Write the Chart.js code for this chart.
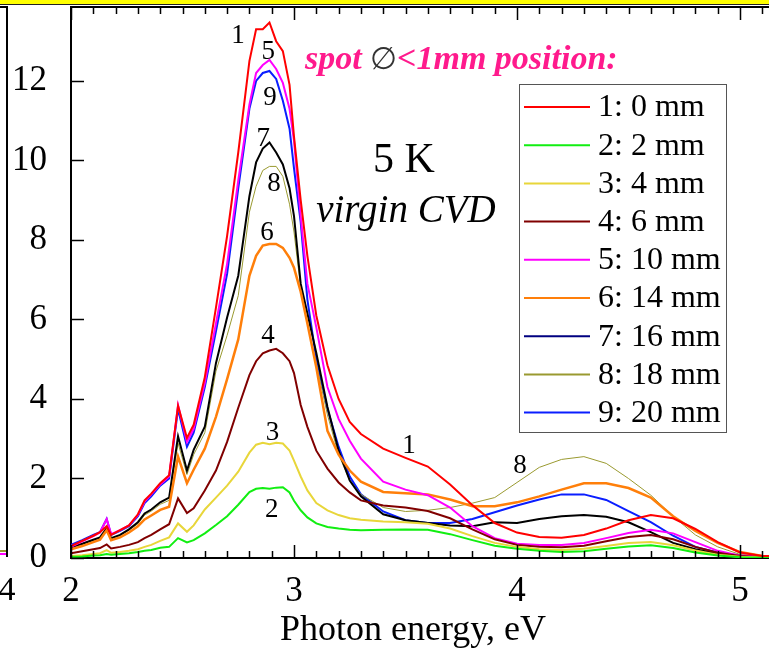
<!DOCTYPE html>
<html>
<head>
<meta charset="utf-8">
<script src="https://cdn.jsdelivr.net/npm/chart.js@4.4.1/dist/chart.umd.min.js"></script>
<style>
  html, body { margin: 0; padding: 0; background: #fff; overflow: hidden; }
  #wrap { width: 769px; height: 653px; position: relative; }
</style>
</head>
<body>
<div id="wrap"><canvas id="chart"></canvas></div>
<script>
// photon energy (eV)
const energies = [2.00, 2.05, 2.10, 2.13, 2.16, 2.18, 2.22, 2.26, 2.30, 2.33, 2.36, 2.40, 2.44, 2.48, 2.52, 2.55,
  2.60, 2.65, 2.70, 2.75, 2.80, 2.83, 2.86, 2.89, 2.92, 2.95, 2.98, 3.00, 3.03, 3.06, 3.10, 3.15, 3.20, 3.25, 3.30,
  3.40, 3.50, 3.60, 3.70, 3.80, 3.90, 4.00, 4.10, 4.20, 4.30, 4.40, 4.50, 4.60, 4.70, 4.80, 4.90, 5.00, 5.10, 5.13];

// intensity for each spot position
const pos0mm = [0.30, 0.43, 0.56, 0.65, 0.80, 0.58, 0.70, 0.82, 1.10, 1.45, 1.62, 1.88, 2.08, 3.83, 3.02, 3.35,
  4.55, 6.30, 8.10, 10.2, 12.5, 13.3, 13.3, 13.47, 13.0, 12.75, 11.9, 10.6, 9.0, 7.6, 6.1, 4.85, 4.0, 3.42, 3.12,
  2.75, 2.52, 2.30, 1.85, 1.33, 0.88, 0.64, 0.53, 0.51, 0.58, 0.74, 0.95, 1.08, 1.00, 0.73, 0.40, 0.14, 0.05, 0.05];
const pos2mm = [0.03, 0.04, 0.06, 0.07, 0.10, 0.08, 0.10, 0.12, 0.15, 0.18, 0.20, 0.26, 0.28, 0.50, 0.39, 0.45,
  0.62, 0.83, 1.05, 1.34, 1.66, 1.74, 1.76, 1.74, 1.77, 1.78, 1.65, 1.44, 1.20, 1.02, 0.87, 0.78, 0.74, 0.71, 0.70,
  0.71, 0.72, 0.71, 0.60, 0.45, 0.31, 0.23, 0.18, 0.15, 0.17, 0.23, 0.29, 0.32, 0.25, 0.14, 0.06, 0.02, 0.01, 0.01];
const pos4mm = [0.05, 0.07, 0.10, 0.12, 0.20, 0.13, 0.15, 0.18, 0.22, 0.28, 0.33, 0.43, 0.52, 0.87, 0.66, 0.82,
  1.22, 1.52, 1.82, 2.17, 2.65, 2.85, 2.90, 2.86, 2.90, 2.88, 2.70, 2.45, 2.05, 1.70, 1.38, 1.20, 1.08, 1.00, 0.96,
  0.92, 0.90, 0.86, 0.74, 0.55, 0.38, 0.28, 0.22, 0.20, 0.23, 0.30, 0.38, 0.40, 0.32, 0.19, 0.08, 0.03, 0.02, 0.02];
const pos6mm = [0.12, 0.17, 0.22, 0.25, 0.34, 0.24, 0.28, 0.33, 0.40, 0.50, 0.58, 0.72, 0.85, 1.50, 1.13, 1.25,
  1.70, 2.20, 2.92, 3.78, 4.60, 4.95, 5.15, 5.22, 5.26, 5.15, 4.95, 4.65, 3.85, 3.30, 2.70, 2.25, 1.90, 1.65, 1.45,
  1.32, 1.27, 1.18, 1.00, 0.72, 0.47, 0.33, 0.28, 0.27, 0.31, 0.42, 0.53, 0.58, 0.47, 0.28, 0.13, 0.05, 0.02, 0.02];
const pos10mm = [0.28, 0.42, 0.55, 0.64, 0.98, 0.60, 0.70, 0.82, 1.08, 1.42, 1.60, 1.85, 2.05, 3.85, 2.92, 3.25,
  4.40, 5.90, 7.40, 9.50, 11.4, 12.2, 12.4, 12.53, 12.3, 11.95, 11.3, 10.5, 8.6, 6.9, 5.8, 4.3, 3.5, 2.95, 2.5,
  1.92, 1.72, 1.58, 1.27, 0.80, 0.50, 0.36, 0.33, 0.33, 0.38, 0.50, 0.63, 0.71, 0.62, 0.40, 0.18, 0.06, 0.03, 0.03];
const pos14mm = [0.22, 0.30, 0.40, 0.46, 0.70, 0.45, 0.52, 0.64, 0.80, 0.97, 1.07, 1.21, 1.29, 2.55, 1.88, 2.22,
  2.75, 3.55, 4.50, 5.50, 7.10, 7.60, 7.86, 7.90, 7.90, 7.80, 7.55, 7.30, 6.70, 5.90, 4.80, 3.20, 2.60, 2.20, 1.92,
  1.66, 1.63, 1.60, 1.47, 1.30, 1.30, 1.40, 1.55, 1.72, 1.88, 1.88, 1.76, 1.52, 1.05, 0.68, 0.38, 0.15, 0.05, 0.04];
const pos16mm = [0.27, 0.36, 0.46, 0.52, 0.75, 0.50, 0.58, 0.72, 0.90, 1.12, 1.22, 1.40, 1.52, 3.06, 2.20, 2.72,
  3.30, 4.90, 6.05, 7.10, 9.10, 9.95, 10.3, 10.45, 10.2, 9.90, 9.30, 8.60, 6.90, 6.15, 5.16, 3.80, 2.70, 1.95, 1.55,
  1.10, 0.95, 0.88, 0.82, 0.80, 0.90, 0.88, 0.98, 1.05, 1.08, 1.04, 0.90, 0.65, 0.38, 0.22, 0.11, 0.05, 0.03, 0.03];
const pos18mm = [0.25, 0.34, 0.44, 0.50, 0.72, 0.48, 0.56, 0.70, 0.86, 1.08, 1.18, 1.35, 1.45, 2.89, 2.10, 2.60,
  3.15, 4.70, 5.60, 6.60, 8.70, 9.35, 9.75, 9.85, 9.85, 9.60, 8.90, 8.20, 6.80, 5.90, 4.90, 3.60, 2.60, 1.95, 1.60,
  1.27, 1.17, 1.20, 1.27, 1.38, 1.52, 1.90, 2.28, 2.48, 2.55, 2.38, 2.00, 1.58, 1.05, 0.58, 0.28, 0.09, 0.04, 0.04];
const pos20mm = [0.33, 0.45, 0.58, 0.65, 0.98, 0.58, 0.68, 0.80, 1.05, 1.38, 1.55, 1.82, 2.00, 3.75, 2.80, 3.15,
  4.30, 5.70, 7.15, 9.30, 11.3, 12.0, 12.2, 12.25, 12.05, 11.5, 10.8, 9.8, 8.45, 6.5, 5.0, 3.75, 2.8, 2.05, 1.6,
  1.17, 0.95, 0.88, 0.88, 0.98, 1.15, 1.32, 1.47, 1.60, 1.60, 1.46, 1.18, 0.90, 0.56, 0.28, 0.14, 0.06, 0.03, 0.03];

const seriesLabels = ['1: 0 mm', '2: 2 mm', '3: 4 mm', '4: 6 mm', '5: 10 mm', '6: 14 mm', '7: 16 mm', '8: 18 mm', '9: 20 mm'];
const seriesValues = [pos0mm, pos2mm, pos4mm, pos6mm, pos10mm, pos14mm, pos16mm, pos18mm, pos20mm];
const seriesColors = ['#ff0000', '#11ee11', '#e8d63a', '#800000', '#ff00ff', '#ff7f0a', '#000000', '#9a9a30', '#0a1eff'];
const legendColors = ['#ff0000', '#11ee11', '#e8d63a', '#800000', '#ff00ff', '#ff7f0a', '#000080', '#9a9a30', '#0a1eff'];
const seriesWidths = [2, 2, 2, 2, 2, 2.5, 2, 1, 2];

const xTicks = [2, 3, 4, 5];
const yTicks = [0, 2, 4, 6, 8, 10, 12];

// curve number labels: [text, energy, intensity]
const curveNotes = [
  ['1', 2.749, 12.96], ['5', 2.885, 12.54], ['9', 2.892, 11.39], ['7', 2.862, 10.36], ['8', 2.91, 9.23],
  ['6', 2.879, 8.01], ['4', 2.883, 5.41], ['3', 2.904, 2.97], ['2', 2.90, 1.04], ['1', 3.516, 2.64], ['8', 4.013, 2.14]
];

const SERIF = "'Liberation Serif', 'Times New Roman', serif";

const datasets = seriesLabels.map((label, i) => ({
  label: label,
  data: energies.map((e, j) => ({ x: e, y: seriesValues[i][j] })),
  borderColor: seriesColors[i],
  legendColor: legendColors[i],
  borderWidth: seriesWidths[i],
  pointRadius: 0,
  tension: 0,
  fill: false
}));

// ticks, annotations, legend and the bit of the neighbour panel
const decor = {
  id: 'decor',
  afterDraw(chart) {
    const ctx = chart.ctx;
    const area = chart.chartArea;
    const xs = chart.scales.x, ys = chart.scales.y;
    ctx.save();

    // neighbour panel remains
    ctx.fillStyle = '#ffff00';
    ctx.fillRect(0, 0, chart.width, 4);
    ctx.strokeStyle = '#222';
    ctx.lineWidth = 1.2;
    ctx.beginPath(); ctx.moveTo(0, 4.5); ctx.lineTo(chart.width, 4.5); ctx.stroke();
    ctx.strokeStyle = '#000';
    ctx.lineWidth = 2;
    ctx.beginPath();
    ctx.moveTo(0, area.top); ctx.lineTo(7, area.top); ctx.lineTo(7, area.bottom - 1);
    ctx.stroke();
    ctx.fillStyle = '#ff00ff'; ctx.fillRect(0, area.bottom - 5, 6, 2);
    ctx.fillStyle = '#9a9a30'; ctx.fillRect(0, area.bottom - 8, 6, 2);
    ctx.fillStyle = '#000';
    ctx.font = '34px ' + SERIF;
    ctx.textAlign = 'center';
    ctx.textBaseline = 'alphabetic';
    ctx.fillText('4', 7, 600);

    // top axis line
    ctx.strokeStyle = '#000';
    ctx.lineWidth = 2;
    ctx.beginPath(); ctx.moveTo(area.left, area.top); ctx.lineTo(area.right, area.top); ctx.stroke();

    // x ticks, inward, top and bottom
    ctx.lineWidth = 1.5;
    for (let k = 20; k <= 51; k++) {
      const px = Math.round(xs.getPixelForValue(k / 10)) + 0.5;
      const len = k % 10 === 0 ? 13 : 7;
      ctx.beginPath();
      ctx.moveTo(px, area.bottom); ctx.lineTo(px, area.bottom - len);
      ctx.moveTo(px, area.top); ctx.lineTo(px, area.top + len);
      ctx.stroke();
    }
    // y ticks, inward
    yTicks.forEach(v => {
      const py = Math.round(ys.getPixelForValue(v)) + 0.5;
      ctx.beginPath(); ctx.moveTo(area.left, py); ctx.lineTo(area.left + 13, py); ctx.stroke();
    });

    // axis title
    ctx.fillStyle = '#000';
    ctx.font = '36px ' + SERIF;
    ctx.textAlign = 'center';
    ctx.fillText('Photon energy, eV', 413, 640);

    // curve numbers
    ctx.font = '27px ' + SERIF;
    curveNotes.forEach(([t, e, v]) => {
      ctx.fillText(t, xs.getPixelForValue(e), ys.getPixelForValue(v));
    });

    // texts in the plot
    ctx.font = '42px ' + SERIF;
    ctx.fillText('5 K', xs.getPixelForValue(3.493), ys.getPixelForValue(9.7));
    ctx.font = 'italic 39px ' + SERIF;
    ctx.fillText('virgin CVD', xs.getPixelForValue(3.502), ys.getPixelForValue(8.44));

    ctx.textAlign = 'left';
    let sx = xs.getPixelForValue(3.049);
    const sy = ys.getPixelForValue(12.3);
    ctx.fillStyle = '#ff1a8c';
    ctx.font = 'bold italic 34px ' + SERIF;
    ctx.fillText('spot ', sx, sy);
    sx += ctx.measureText('spot ').width;
    ctx.fillStyle = '#333';
    ctx.font = '31px ' + SERIF;
    ctx.fillText('\u2205', sx, sy);
    sx += ctx.measureText('\u2205').width;
    ctx.fillStyle = '#ff1a8c';
    ctx.font = 'bold italic 34px ' + SERIF;
    ctx.fillText('<1mm position:', sx, sy);

    // legend
    const lx = 519, ly = 84, lw = 207, lh = 348, row = 38.2;
    ctx.fillStyle = '#fff';
    ctx.fillRect(lx, ly, lw, lh);
    ctx.strokeStyle = '#555';
    ctx.lineWidth = 1;
    ctx.strokeRect(lx + 0.5, ly + 0.5, lw, lh);
    ctx.font = '32px ' + SERIF;
    ctx.textAlign = 'left';
    ctx.textBaseline = 'middle';
    chart.data.datasets.forEach((ds, i) => {
      const cy = ly + 23 + i * row;
      ctx.strokeStyle = ds.legendColor;
      ctx.lineWidth = 2;
      ctx.beginPath(); ctx.moveTo(lx + 5, cy); ctx.lineTo(lx + 71, cy); ctx.stroke();
      ctx.fillStyle = '#000';
      ctx.fillText(ds.label, lx + 79, cy + 1);
    });
    ctx.restore();
  }
};

new Chart(document.getElementById('chart').getContext('2d'), {
  type: 'line',
  data: { datasets: datasets },
  options: {
    responsive: true,
    maintainAspectRatio: false,
    devicePixelRatio: 1,
    animation: false,
    layout: { padding: { top: 7, right: 0, left: 0, bottom: 0 } },
    plugins: { legend: { display: false }, tooltip: { enabled: false } },
    scales: {
      x: {
        type: 'linear',
        min: 2,
        max: 5.13,
        grid: { display: false },
        border: { display: true, color: '#000', width: 2 },
        afterBuildTicks: scale => { scale.ticks = xTicks.map(v => ({ value: v })); },
        afterFit: scale => { scale.height = 95; scale.paddingLeft = 0; scale.paddingRight = 0; },
        ticks: { color: '#000', font: { family: SERIF, size: 35 }, padding: 5, maxRotation: 0 }
      },
      y: {
        min: 0,
        max: 13.86,
        grid: { display: false },
        border: { display: true, color: '#000', width: 2 },
        afterBuildTicks: scale => { scale.ticks = yTicks.map(v => ({ value: v })); },
        afterFit: scale => { scale.width = 71; scale.paddingTop = 0; scale.paddingBottom = 0; },
        ticks: { color: '#000', font: { family: SERIF, size: 35 }, padding: 16 }
      }
    }
  },
  plugins: [decor]
});
</script>
</body>
</html>
